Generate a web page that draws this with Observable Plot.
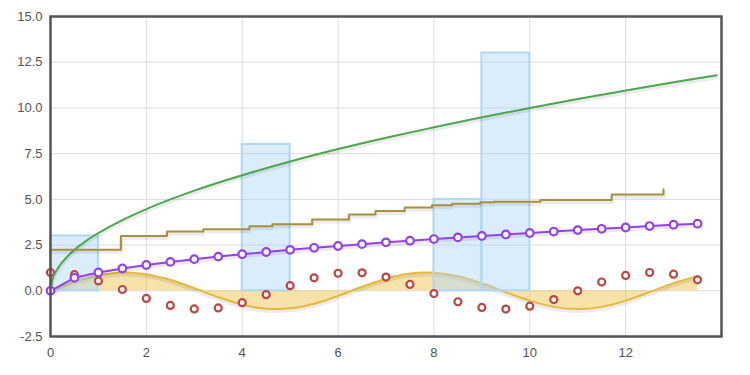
<!DOCTYPE html>
<html>
<head>
<meta charset="utf-8">
<script src="https://cdn.jsdelivr.net/npm/d3@7"></script>
<script src="https://cdn.jsdelivr.net/npm/@observablehq/plot@0.6"></script>
<style>
  html, body { margin: 0; padding: 0; background: #fff; }
  #chart svg { display: block; }
</style>
</head>
<body>
<div id="chart"></div>
<script>
// x positions shared by the half-step series
const xHalf = [0,0.5,1,1.5,2,2.5,3,3.5,4,4.5,5,5.5,6,6.5,7,7.5,8,8.5,9,9.5,10,10.5,11,11.5,12,12.5,13,13.5];
// filled wave (yellow area)
const waveVals = [0,0.48,0.84,1.0,0.91,0.6,0.14,-0.35,-0.76,-0.98,-0.96,-0.71,-0.28,0.22,0.66,0.94,0.99,0.8,0.41,-0.08,-0.54,-0.88,-1.0,-0.88,-0.54,-0.07,0.42,0.8];
// red points
const pointVals = [1.0,0.88,0.54,0.07,-0.42,-0.8,-0.99,-0.94,-0.65,-0.21,0.28,0.71,0.96,0.98,0.75,0.35,-0.15,-0.6,-0.91,-1.0,-0.84,-0.48,0.0,0.48,0.84,1.0,0.91,0.6];
// purple line with points
const purpleVals = [0,0.71,1.0,1.22,1.41,1.58,1.73,1.87,2.0,2.12,2.24,2.35,2.45,2.55,2.65,2.74,2.83,2.92,3.0,3.08,3.16,3.24,3.32,3.39,3.46,3.54,3.61,3.67];
// green curve
const greenX = [0,0.05,0.1,0.2,0.3,0.5,0.75,1,1.5,2,2.5,3,4,5,6,7,8,9,10,11,12,13,13.9];
const greenY = [0,0.71,1.0,1.41,1.73,2.24,2.74,3.16,3.87,4.47,5.0,5.48,6.32,7.07,7.75,8.37,8.94,9.49,10.0,10.49,10.95,11.4,11.79];
// bars
const barX = [0,4,8,9];
const barY = [3,8,5,13];
// step line
const stepX = [0,1.47,2.43,3.19,4.15,4.63,5.46,6.23,6.78,7.39,7.96,8.38,8.97,9.25,10.22,11.71,12.79];
const stepY = [2.24,2.99,3.24,3.37,3.53,3.64,3.9,4.17,4.36,4.55,4.68,4.76,4.84,4.87,4.97,5.26,5.55];
// ticks
const xTicks = [0,2,4,6,8,10,12];
const yTicks = [-2.5,0,2.5,5,7.5,10,12.5,15];

const half = xHalf.map((x, i) => ({x, wave: waveVals[i], pt: pointVals[i], pu: purpleVals[i]}));
const green = greenX.map((x, i) => ({x, y: greenY[i]}));
const bars = barX.map((x, i) => ({x, y: barY[i]}));
const steps = stepX.map((x, i) => ({x, y: stepY[i]}));

const chart = Plot.plot({
  width: 750,
  height: 375,
  marginTop: 16,
  marginBottom: 39,
  marginLeft: 50,
  marginRight: 29,
  style: {fontFamily: "'Liberation Sans', Arial, sans-serif", fontSize: "13px", color: "#545454", background: "#fff"},
  x: {domain: [0, 14], label: null},
  y: {domain: [-2.5, 15], label: null},
  marks: [
    Plot.gridX(xTicks, {stroke: "#dcdcdc", strokeOpacity: 1, strokeWidth: 1}),
    Plot.gridY(yTicks, {stroke: "#dcdcdc", strokeOpacity: 1, strokeWidth: 1}),
    // yellow area
    Plot.areaY(half, {x: "x", y1: 0, y2: "wave", fill: "#edc240", fillOpacity: 0.45, curve: "catmull-rom"}),
    Plot.line(half, {x: "x", y: "wave", stroke: "#000", strokeOpacity: 0.08, strokeWidth: 4, dy: 2, curve: "catmull-rom"}),
    Plot.line(half, {x: "x", y: "wave", stroke: "#e8b93a", strokeWidth: 2, curve: "catmull-rom"}),
    // bars
    Plot.rect(bars, {x1: "x", x2: d => d.x + 1, y1: 0, y2: "y", fill: "#afd8f8", fillOpacity: 0.45, stroke: "#afd8f8", strokeWidth: 2}),
    // red points
    Plot.dot(half, {x: "x", y: "pt", r: 3.5, fill: "#fff", stroke: "#c04444", strokeWidth: 2.2}),
    // green line
    Plot.line(green, {x: "x", y: "y", stroke: "#000", strokeOpacity: 0.08, strokeWidth: 4, dy: 2, curve: "monotone-x"}),
    Plot.line(green, {x: "x", y: "y", stroke: "#4da74d", strokeWidth: 2, curve: "monotone-x"}),
    // purple line with points
    Plot.line(half, {x: "x", y: "pu", stroke: "#000", strokeOpacity: 0.08, strokeWidth: 4, dy: 2}),
    Plot.line(half, {x: "x", y: "pu", stroke: "#9440ed", strokeWidth: 2}),
    Plot.dot(half, {x: "x", y: "pu", r: 3.8, fill: "#fff", stroke: "#9440ed", strokeWidth: 2.2}),
    // step line
    Plot.line(steps, {x: "x", y: "y", stroke: "#000", strokeOpacity: 0.08, strokeWidth: 4, dy: 2, curve: "step-after"}),
    Plot.line(steps, {x: "x", y: "y", stroke: "#a8903e", strokeWidth: 2, curve: "step-after"}),
    Plot.axisX(xTicks, {tickSize: 0, tickPadding: 11, tickFormat: d => String(d), fill: "#545454", fontSize: 13, label: null}),
    Plot.axisY(yTicks, {tickSize: 0, tickPadding: 8, tickFormat: d => d.toFixed(1), fill: "#545454", fontSize: 13, label: null}),
    Plot.frame({stroke: "#545454", strokeWidth: 2.5})
  ]
});
document.getElementById("chart").appendChild(chart);
</script>
</body>
</html>
